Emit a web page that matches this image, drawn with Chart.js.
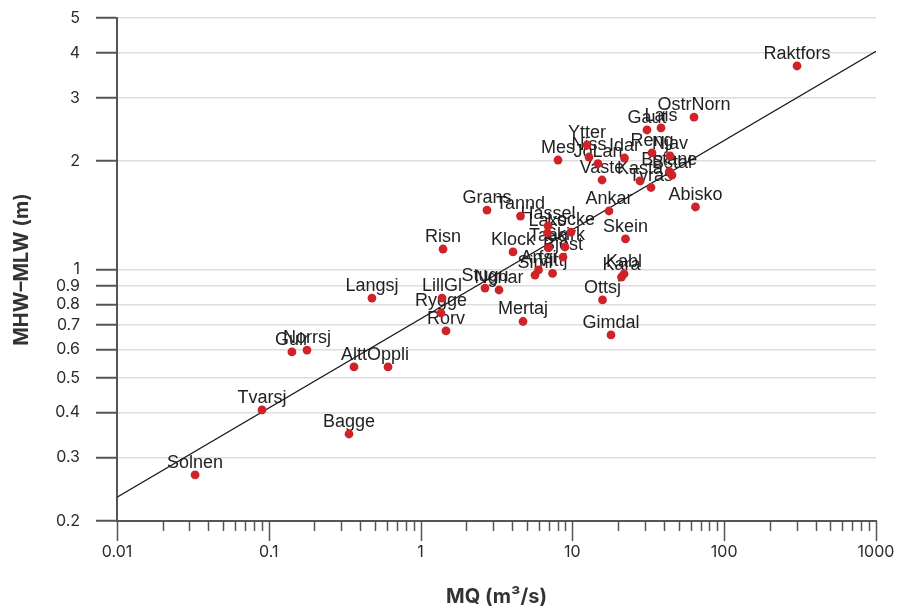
<!DOCTYPE html>
<html>
<head>
<meta charset="utf-8">
<script src="https://cdn.jsdelivr.net/npm/chart.js@4.4.1/dist/chart.umd.min.js"></script>
<style>
  html, body { margin: 0; padding: 0; background: #ffffff; }
  canvas { display: block; }
</style>
</head>
<body>
<canvas id="c" width="897" height="608"></canvas>
<script>
// ---- data ----
const names = ['Solnen','Tvarsj','Gulr','Norrsj','Bagge','Altt','Oppli','Langsj','LillGl','Rygge',
  'Rorv','Risn','Stugu','Ngnar','Mertaj','Gimdal','Ottsj','Kabl','Kara','Skein',
  'Ankar','Abisko','Raktfors','OstrNorn','Gaut','Lais','Reng','Njav','Bstane','Bstal',
  'Kasta','Tyras','Vaste','Idar','JoLan','Niss','Ytter','Mes','Grans','Tannd',
  'Hassel','Laxs','Locke','Skirk','Klock','Taag','Bjost','Arfsi','Siml','Vittj'];
const mq = [0.0327,0.0902,0.142,0.1785,0.3375,0.364,0.61,0.478,1.384,1.363,
  1.47,1.405,2.656,3.285,4.727,17.96,15.79,21.88,21.06,22.38,
  17.42,64.7,301.8,63.25,31.0,38.35,33.45,43.95,43.5,45.3,
  27.88,32.95,15.67,22.04,14.74,12.87,12.48,8.04,2.737,4.551,
  6.908,6.85,9.79,8.94,4.062,6.95,8.67,5.98,5.67,7.40];
const tide = [0.2685,0.407,0.590,0.597,0.349,0.536,0.536,0.833,0.833,0.757,
  0.675,1.140,0.888,0.877,0.717,0.658,0.823,0.972,0.953,1.216,
  1.454,1.492,3.678,2.653,2.442,2.474,2.108,2.068,1.872,1.830,
  1.762,1.690,1.773,2.041,1.970,2.054,2.218,2.015,1.463,1.408,
  1.321,1.263,1.271,1.155,1.119,1.148,1.083,0.997,0.965,0.975];
const fitX = [0.01, 1000];
const fitY = [0.233, 4.04];
const xTicks = [0.01, 0.1, 1, 10, 100, 1000];
const xTickLabels = ['0.01','0.1','1','10','100','1000'];
const yTicks = [0.2,0.3,0.4,0.5,0.6,0.7,0.8,0.9,1,2,3,4,5];
const yTickLabels = ['0.2','0.3','0.4','0.5','0.6','0.7','0.8','0.9','1','2','3','4','5'];

const points = mq.map((v, i) => ({x: v, y: tide[i]}));
const fitLine = fitX.map((v, i) => ({x: v, y: fitY[i]}));

const AXIS = '#555555';

const labelPlugin = {
  id: 'pointLabels',
  beforeDatasetsDraw(chart) {
    const meta = chart.getDatasetMeta(1);
    const ctx = chart.ctx;
    ctx.save();
    ctx.font = '18px "Liberation Sans", Arial, sans-serif';
    ctx.fillStyle = '#222222';
    ctx.textAlign = 'center';
    ctx.textBaseline = 'alphabetic';
    meta.data.forEach((el, i) => {
      ctx.fillText(names[i], el.x, el.y - 7);
    });
    ctx.restore();
  }
};

const xTickPlugin = {
  id: 'xMinorTicks',
  afterDraw(chart) {
    const xs = chart.scales.x;
    const ctx = chart.ctx;
    const y0 = chart.chartArea.bottom;
    ctx.save();
    ctx.strokeStyle = AXIS;
    ctx.lineWidth = 1.5;
    for (let e = -2; e <= 3; e++) {
      for (let k = 1; k <= 9; k++) {
        if (e === 3 && k > 1) break;
        const v = k * Math.pow(10, e);
        const px = Math.round(xs.getPixelForValue(v)) + 0.5;
        ctx.beginPath();
        ctx.moveTo(px, y0);
        ctx.lineTo(px, y0 + (k === 1 ? 20 : 10));
        ctx.stroke();
      }
    }
    ctx.restore();
  }
};

function zeroPad(s) {
  s.paddingTop = 0; s.paddingBottom = 0; s.paddingLeft = 0; s.paddingRight = 0;
}

new Chart(document.getElementById('c'), {
  data: {
    datasets: [
      {
        type: 'line',
        data: fitLine,
        borderColor: '#1a1a1a',
        borderWidth: 1.3,
        pointRadius: 0,
        fill: false,
        order: 2
      },
      {
        type: 'scatter',
        data: points,
        backgroundColor: '#cd2329',
        borderColor: '#cd2329',
        borderWidth: 0,
        pointRadius: 4.4,
        order: 1
      }
    ]
  },
  options: {
    responsive: false,
    animation: false,
    devicePixelRatio: 1,
    layout: { padding: { top: 18, right: 21, left: 0, bottom: 0 } },
    plugins: { legend: { display: false }, tooltip: { enabled: false } },
    scales: {
      x: {
        type: 'logarithmic',
        min: 0.01,
        max: 1000,
        afterBuildTicks: (s) => { s.ticks = xTicks.map(v => ({value: v})); },
        afterFit: (s) => { s.height = 87; zeroPad(s); },
        grid: { drawOnChartArea: false, drawTicks: false },
        border: { display: true, color: AXIS, width: 2 },
        ticks: {
          autoSkip: false, maxRotation: 0, padding: 22,
          color: '#2b2b2b',
          font: { family: 'Inter, "Noto Sans", sans-serif', size: 16 },
          callback: (v, i) => xTickLabels[i]
        },
        title: {
          display: true, text: 'MQ (m³/s)', color: '#333333',
          font: { family: 'Inter, "Noto Sans", sans-serif', size: 20, weight: 'bold', lineHeight: 1.1 },
          padding: { top: 0, bottom: 0 }
        }
      },
      y: {
        type: 'logarithmic',
        min: 0.2,
        max: 5,
        afterBuildTicks: (s) => { s.ticks = yTicks.map(v => ({value: v})); },
        afterFit: (s) => { s.width = 117; zeroPad(s); },
        grid: { color: '#dddddd', lineWidth: 1.5, tickColor: AXIS, tickWidth: 2, tickLength: 21 },
        border: { display: true, color: AXIS, width: 2 },
        ticks: {
          autoSkip: false, padding: 16,
          color: '#2b2b2b',
          font: { family: 'Inter, "Noto Sans", sans-serif', size: 16 },
          callback: (v, i) => yTickLabels[i]
        },
        title: {
          display: true, text: 'MHW–MLW (m)', color: '#333333',
          font: { family: 'Inter, "Noto Sans", sans-serif', size: 20, weight: 'bold' },
          padding: { top: 10, bottom: 0 }
        }
      }
    }
  },
  plugins: [labelPlugin, xTickPlugin]
});
</script>
</body>
</html>
